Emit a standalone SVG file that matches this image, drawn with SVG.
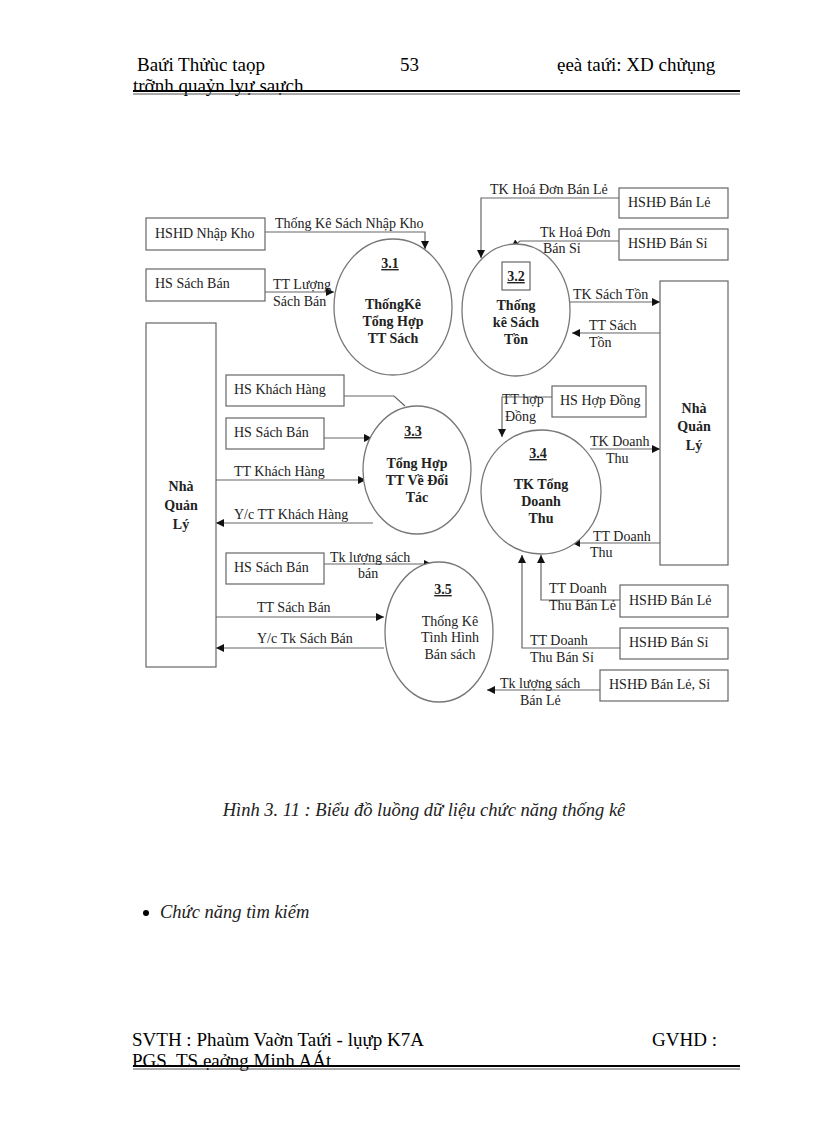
<svg xmlns="http://www.w3.org/2000/svg" width="816" height="1123" viewBox="0 0 816 1123">
<defs>
<marker id="ar" viewBox="0 0 10 10" refX="10" refY="5" markerWidth="7" markerHeight="7" orient="auto-start-reverse"><path d="M0,0L10,5L0,10z" fill="#111"/></marker>
<style>
text{font-family:"Liberation Serif",serif;fill:#222}
.t{font-size:14px}
.b{font-size:14px;font-weight:bold;text-anchor:middle}
.c{font-size:14px;text-anchor:middle}
.u{text-decoration:underline}
.box{fill:#fff;stroke:#666;stroke-width:1.2}
.el{fill:#fff;stroke:#777;stroke-width:1.3}
.ln{fill:none;stroke:#666;stroke-width:1.2}
.a{marker-end:url(#ar)}
.h{font-size:19px;fill:#000}
</style>
</defs>
<rect width="816" height="1123" fill="#fff"/>
<g id="header">
<text class="h" x="137" y="71">Baứi Thửùc taọp</text>
<text class="h" x="400" y="71">53</text>
<text class="h" x="557" y="71">ẹeà taứi: XD chửụng</text>
<text class="h" x="133" y="92">trỡnh quaỷn lyự saựch</text>
<rect x="133" y="90" width="607" height="2" fill="#000"/>
<rect x="133" y="93.5" width="607" height="1" fill="#555"/>
</g>
<g id="footer">
<text class="h" x="132" y="1046">SVTH : Phaùm Vaờn Taứi - lụựp K7A</text>
<text class="h" x="652" y="1046">GVHD :</text>
<text class="h" x="132" y="1067">PGS. TS.ẹaởng Minh AÁt</text>
<rect x="133" y="1065" width="607" height="2" fill="#000"/>
<rect x="133" y="1068.5" width="607" height="1" fill="#555"/>
</g>
<g id="connectors">
<path class="ln a" d="M265,232H425V249"/>
<path class="ln a" d="M265,292H334"/>
<path class="ln a" d="M619,198H481V258"/>
<path class="ln a" d="M619,241H520L511,248"/>
<path class="ln a" d="M570,302H660"/>
<path class="ln a" d="M660,333H572"/>
<path class="ln" d="M344,396H394L405,406"/>
<path class="ln a" d="M324,438H372"/>
<path class="ln a" d="M216,480H366"/>
<path class="ln a" d="M373,523H216"/>
<path class="ln a" d="M324,564H432"/>
<path class="ln a" d="M216,617H384"/>
<path class="ln a" d="M384,648H216"/>
<path class="ln a" d="M552,397H502V437"/>
<path class="ln a" d="M590,449H660"/>
<path class="ln a" d="M660,543H572"/>
<path class="ln a" d="M620,600H541V555"/>
<path class="ln a" d="M620,648H522V555"/>
<path class="ln a" d="M600,690H487"/>
</g>
<g id="labels">
<text class="t" x="275" y="228">Thống Kê Sách Nhập Kho</text>
<text class="t" x="273" y="289">TT Lượng</text><text class="t" x="273" y="306">Sách Bán</text>
<text class="t" x="490" y="194">TK Hoá Đơn Bán Lẻ</text>
<text class="t" x="540" y="237">Tk Hoá Đơn</text><text class="t" x="543" y="253">Bán Sỉ</text>
<text class="t" x="573" y="299">TK Sách Tồn</text>
<text class="t" x="589" y="330">TT Sách</text><text class="t" x="589" y="347">Tồn</text>
<text class="t" x="234" y="476">TT Khách Hàng</text>
<text class="t" x="234" y="519">Y/c TT Khách Hàng</text>
<text class="t" x="330" y="562">Tk lượng sách</text><text class="t" x="358" y="578">bán</text>
<text class="t" x="257" y="612">TT Sách Bán</text>
<text class="t" x="257" y="643">Y/c Tk Sách Bán</text>
<text class="t" x="502" y="404">TT hợp</text><text class="t" x="505" y="421">Đồng</text>
<text class="t" x="590" y="446">TK Doanh</text><text class="t" x="606" y="463">Thu</text>
<text class="t" x="593" y="541">TT Doanh</text><text class="t" x="590" y="557">Thu</text>
<text class="t" x="549" y="593">TT Doanh</text><text class="t" x="549" y="610">Thu Bán Lẻ</text>
<text class="t" x="530" y="645">TT Doanh</text><text class="t" x="530" y="662">Thu Bán Sỉ</text>
<text class="t" x="500" y="688">Tk lượng sách</text><text class="t" x="520" y="705">Bán Lẻ</text>
</g>
<g id="n-hshd-nhapkho"><rect class="box" x="146" y="218" width="119" height="32"/><text class="t" x="155" y="238">HSHD Nhập Kho</text></g>
<g id="n-hs-sachban1"><rect class="box" x="146" y="269" width="119" height="32"/><text class="t" x="155" y="288">HS Sách Bán</text></g>
<g id="n-nql-left"><rect class="box" x="146" y="323" width="70" height="344"/><text class="b" x="181" y="491">Nhà</text><text class="b" x="181" y="510">Quản</text><text class="b" x="181" y="529">Lý</text></g>
<g id="n-hs-khachhang"><rect class="box" x="226" y="375" width="118" height="31"/><text class="t" x="234" y="394">HS Khách Hàng</text></g>
<g id="n-hs-sachban2"><rect class="box" x="226" y="418" width="98" height="31"/><text class="t" x="234" y="437">HS Sách Bán</text></g>
<g id="n-hs-sachban3"><rect class="box" x="226" y="553" width="98" height="31"/><text class="t" x="234" y="572">HS Sách Bán</text></g>
<g id="n-hshd-banle1"><rect class="box" x="619" y="188" width="109" height="30"/><text class="t" x="628" y="207">HSHĐ Bán Lẻ</text></g>
<g id="n-hshd-bansi1"><rect class="box" x="619" y="229" width="109" height="31"/><text class="t" x="628" y="248">HSHĐ Bán Sỉ</text></g>
<g id="n-nql-right"><rect class="box" x="660" y="281" width="68" height="284"/><text class="b" x="694" y="413">Nhà</text><text class="b" x="694" y="431">Quản</text><text class="b" x="694" y="450">Lý</text></g>
<g id="n-hs-hopdong"><rect class="box" x="552" y="386" width="94" height="31"/><text class="t" x="560" y="405">HS Hợp Đồng</text></g>
<g id="n-hshd-banle2"><rect class="box" x="620" y="585" width="108" height="32"/><text class="t" x="629" y="605">HSHĐ Bán Lẻ</text></g>
<g id="n-hshd-bansi2"><rect class="box" x="620" y="628" width="108" height="31"/><text class="t" x="629" y="647">HSHĐ Bán Sỉ</text></g>
<g id="n-hshd-banlesi"><rect class="box" x="600" y="670" width="128" height="31"/><text class="t" x="609" y="689">HSHĐ Bán Lẻ, Sỉ</text></g>
<g id="p31"><ellipse class="el" cx="393" cy="307" rx="59" ry="68"/><text class="b u" x="390" y="268">3.1</text><text class="b" x="393" y="309">ThốngKê</text><text class="b" x="393" y="326">Tổng Hợp</text><text class="b" x="393" y="343">TT Sách</text></g>
<g id="p32"><ellipse class="el" cx="516" cy="310" rx="54" ry="66"/><rect class="box" x="502" y="262" width="28" height="28"/><text class="b u" x="516" y="281">3.2</text><text class="b" x="516" y="310">Thống</text><text class="b" x="516" y="327">kê Sách</text><text class="b" x="516" y="344">Tồn</text></g>
<g id="p33"><ellipse class="el" cx="417" cy="470" rx="54" ry="64"/><text class="b u" x="413" y="436">3.3</text><text class="b" x="417" y="468">Tổng Hợp</text><text class="b" x="417" y="485">TT Về Đối</text><text class="b" x="417" y="502">Tác</text></g>
<g id="p34"><ellipse class="el" cx="541" cy="492" rx="60" ry="62"/><text class="b u" x="538" y="458">3.4</text><text class="b" x="541" y="489">TK Tổng</text><text class="b" x="541" y="506">Doanh</text><text class="b" x="541" y="523">Thu</text></g>
<g id="p35"><ellipse class="el" cx="439" cy="632" rx="54" ry="70"/><text class="b u" x="443" y="594">3.5</text><text class="c" x="450" y="626">Thống Kê</text><text class="c" x="450" y="642">Tình Hình</text><text class="c" x="450" y="659">Bán sách</text></g>
<text x="424" y="816" text-anchor="middle" font-size="18.5" font-style="italic">Hình 3. 11 : Biểu đồ luồng dữ liệu chức năng thống kê</text>
<circle cx="146" cy="913" r="3" fill="#000"/>
<text x="160" y="918" font-size="18.5" font-style="italic">Chức năng tìm kiếm</text>
</svg>
